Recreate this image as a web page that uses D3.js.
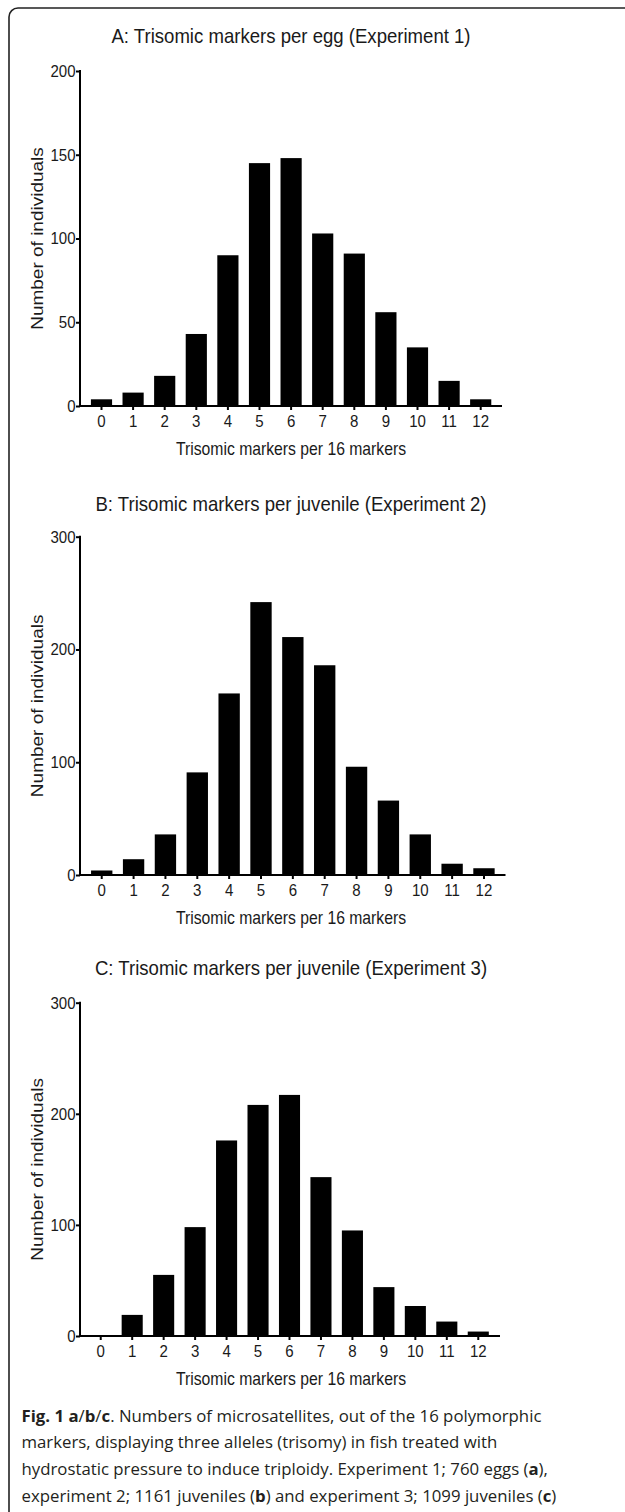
<!DOCTYPE html>
<html>
<head>
<meta charset="utf-8">
<script src="https://cdn.jsdelivr.net/npm/d3@7"></script>
<style>
  body { margin: 0; background: #fff; }
  svg { display: block; }
  .axis path, .axis line { stroke: #000; stroke-width: 2px; }
  .axis text { font-family: "Liberation Sans", Arial, sans-serif; font-size: 17px; fill: #1a1a1a; }
  .lbl { font-family: "Liberation Sans", Arial, sans-serif; fill: #1a1a1a; }
</style>
</head>
<body>
<div id="chart"></div>
<script>
// categories: number of trisomic markers (out of 16)
var categories = ["0","1","2","3","4","5","6","7","8","9","10","11","12"];

// counts per category
var eggsExp1 = [4, 8, 18, 43, 90, 145, 148, 103, 91, 56, 35, 15, 4];
var juvExp2  = [4, 14, 36, 91, 161, 242, 211, 186, 96, 66, 36, 10, 6];
var juvExp3  = [0, 19, 55, 98, 176, 208, 217, 143, 95, 44, 27, 13, 4];

var yTicksA = [0, 50, 100, 150, 200];
var yTicksBC = [0, 100, 200, 300];

var titles = [
  "A: Trisomic markers per egg (Experiment 1)",
  "B: Trisomic markers per juvenile (Experiment 2)",
  "C: Trisomic markers per juvenile (Experiment 3)"
];
var xLabel = "Trisomic markers per 16 markers";
var yLabel = "Number of individuals";

var W = 625, H = 1512;
var squeeze = 0.885; // the source image is a bit narrower than tall

var svg = d3.select("#chart")
  .append("svg")
    .attr("width", W)
    .attr("height", H);

// frame of the figure box (runs off the right and bottom edge)
svg.append("rect")
  .attr("x", 9).attr("y", 8)
  .attr("width", 660).attr("height", 1560)
  .attr("rx", 9)
  .attr("fill", "none")
  .attr("stroke", "#222")
  .attr("stroke-width", 1.6);

var panels = [
  {title: titles[0], values: eggsExp1, ticks: yTicksA, top: 71, bottom: 406, bandL: 85.7, bandR: 496.5, axisEnd: 502, titleY: 43},
  {title: titles[1], values: juvExp2, ticks: yTicksBC, top: 536.7, bottom: 875, bandL: 85.8, bandR: 499.9, axisEnd: 505.5, titleY: 510.7},
  {title: titles[2], values: juvExp3, ticks: yTicksBC, top: 1002.7, bottom: 1336, bandL: 85, bandR: 494, axisEnd: 500, titleY: 975}
];

var axisX = 80;

panels.forEach(function(p) {
  var g = svg.append("g");

  var x = d3.scaleBand()
    .domain(categories)
    .range([p.bandL, p.bandR])
    .paddingInner(0.33)
    .paddingOuter(0.165);

  var yMax = p.ticks[p.ticks.length - 1];
  var y = d3.scaleLinear()
    .domain([0, yMax])
    .range([p.bottom, p.top]);

  // bars
  g.selectAll("rect.bar")
    .data(p.values)
    .enter()
    .append("rect")
      .attr("class", "bar")
      .attr("x", function(d, i) { return x(categories[i]); })
      .attr("y", function(d) { return y(d); })
      .attr("width", x.bandwidth())
      .attr("height", function(d) { return p.bottom - y(d); })
      .attr("fill", "#000");

  // y axis
  var ya = g.append("g")
    .attr("class", "axis")
    .attr("transform", "translate(" + axisX + ",0)")
    .call(d3.axisLeft(y).tickValues(p.ticks).tickSize(4).tickSizeOuter(0).tickPadding(1));
  ya.select(".domain").attr("d", "M0," + (p.top - 1) + "V" + (p.bottom + 1));
  ya.selectAll(".tick text").attr("transform", "scale(" + squeeze + ",1)");

  // x axis
  var xa = g.append("g")
    .attr("class", "axis")
    .attr("transform", "translate(0," + p.bottom + ")")
    .call(d3.axisBottom(x).tickSize(4).tickSizeOuter(0).tickPadding(5));
  xa.select(".domain").attr("d", "M" + (axisX - 1) + ",0H" + p.axisEnd);
  xa.selectAll(".tick line").attr("stroke-width", 1.5);
  xa.selectAll(".tick text").attr("transform", "scale(" + squeeze + ",1)");

  // titles
  g.append("text")
    .attr("class", "lbl")
    .attr("transform", "translate(291," + p.titleY + ")scale(" + squeeze + ",1)")
    .attr("text-anchor", "middle")
    .style("font-size", "21px")
    .text(p.title);

  g.append("text")
    .attr("class", "lbl")
    .attr("transform", "translate(291," + (p.bottom + 48.5) + ")scale(0.9,1)")
    .attr("text-anchor", "middle")
    .style("font-size", "17.5px")
    .text(xLabel);

  g.append("text")
    .attr("class", "lbl")
    .attr("transform", "translate(42.5," + ((p.top + p.bottom) / 2) + ")rotate(-90)scale(1,0.87)")
    .attr("text-anchor", "middle")
    .style("font-size", "19px")
    .text(yLabel);
});

// caption
var caption = [
  [{t: "Fig. 1 ", b: true}, {t: "a", b: true}, {t: "/", b: false}, {t: "b", b: true}, {t: "/", b: false}, {t: "c", b: true}, {t: ". Numbers of microsatellites, out of the 16 polymorphic", b: false}],
  [{t: "markers, displaying three alleles (trisomy) in fish treated with", b: false}],
  [{t: "hydrostatic pressure to induce triploidy. Experiment 1; 760 eggs (", b: false}, {t: "a", b: true}, {t: "),", b: false}],
  [{t: "experiment 2; 1161 juveniles (", b: false}, {t: "b", b: true}, {t: ") and experiment 3; 1099 juveniles (", b: false}, {t: "c", b: true}, {t: ")", b: false}]
];

caption.forEach(function(line, i) {
  var t = svg.append("text")
    .attr("x", 21.5)
    .attr("y", 1421.7 + i * 26.7)
    .style("font-family", "'Open Sans', sans-serif")
    .style("font-size", "16.8px")
    .style("fill", "#231f20");
  line.forEach(function(s) {
    t.append("tspan")
      .style("font-weight", s.b ? "bold" : "normal")
      .text(s.t);
  });
});
</script>
</body>
</html>
